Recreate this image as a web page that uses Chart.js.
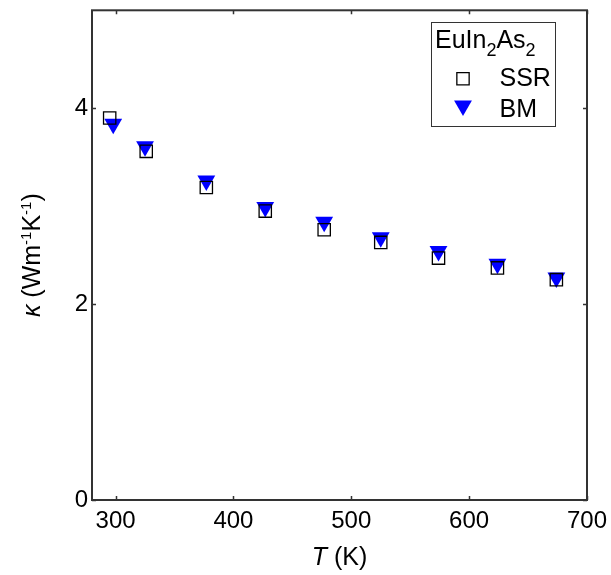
<!DOCTYPE html>
<html>
<head>
<meta charset="utf-8">
<script src="https://cdn.jsdelivr.net/npm/chart.js@4.4.1/dist/chart.umd.min.js"></script>
<style>
html, body { margin: 0; padding: 0; background: #fff; }
#wrap { width: 611px; height: 575px; }
</style>
</head>
<body>
<div id="wrap"><canvas id="kappa"></canvas></div>
<script>
var xTicks = [300, 400, 500, 600, 700];
var yTicks = [0, 2, 4];
var ssrT = [295, 326, 377, 427, 477, 525, 574, 624, 674];
var ssrKappa = [3.90, 3.56, 3.19, 2.95, 2.76, 2.63, 2.47, 2.37, 2.25];
var bmT = [298, 325, 377, 427, 477, 525, 574, 624, 674];
var bmKappa = [3.84, 3.61, 3.26, 2.99, 2.84, 2.68, 2.54, 2.41, 2.27];
var seriesLabels = ['SSR', 'BM'];

var FONT = "'Liberation Sans', Arial, sans-serif";
var AXIS = '#333';

function pairs(xs, ys) {
    return xs.map(function (x, i) { return { x: x, y: ys[i] }; });
}

// draws a row of text pieces, some italic / raised / lowered
function drawRuns(ctx, runs, x, y, size) {
    var cx = x;
    runs.forEach(function (r) {
        var s = r.sup || r.sub ? size * (r.scale || 0.6) : size;
        ctx.font = (r.italic ? 'italic ' : '') + s + 'px ' + FONT;
        var dy = r.sup ? -size * 0.38 : (r.sub ? size * 0.3 : 0);
        ctx.fillText(r.t, cx, y + dy);
        cx += ctx.measureText(r.t).width;
    });
    return cx - x;
}

function runsWidth(ctx, runs, size) {
    var w = 0;
    runs.forEach(function (r) {
        var s = r.sup || r.sub ? size * (r.scale || 0.6) : size;
        ctx.font = (r.italic ? 'italic ' : '') + s + 'px ' + FONT;
        w += ctx.measureText(r.t).width;
    });
    return w;
}

var yTitle = [{ t: '\u03ba', italic: true }, { t: ' (Wm' }, { t: '-1', sup: true }, { t: 'K' }, { t: '-1', sup: true }, { t: ')' }];
var xTitle = [{ t: 'T', italic: true }, { t: ' (K)' }];
var legendTitle = [{ t: 'EuIn' }, { t: '2', sub: true, scale: 0.72 }, { t: 'As' }, { t: '2', sub: true, scale: 0.72 }];

var framePlugin = {
    id: 'frame',
    afterDraw: function (chart) {
        var ctx = chart.ctx;
        var a = chart.chartArea;
        var xs = chart.scales.x, ys = chart.scales.y;
        ctx.save();
        ctx.strokeStyle = AXIS;
        ctx.lineWidth = 2;
        ctx.strokeRect(a.left, a.top, a.right - a.left, a.bottom - a.top);

        // inward ticks on all four sides
        ctx.lineWidth = 1.5;
        ctx.beginPath();
        xTicks.forEach(function (v) {
            var px = Math.round(xs.getPixelForValue(v)) + 0.5;
            ctx.moveTo(px, a.bottom); ctx.lineTo(px, a.bottom - 4);
            ctx.moveTo(px, a.top); ctx.lineTo(px, a.top + 4);
        });
        yTicks.forEach(function (v) {
            var py = Math.round(ys.getPixelForValue(v)) + 0.5;
            ctx.moveTo(a.left, py); ctx.lineTo(a.left + 4, py);
            ctx.moveTo(a.right, py); ctx.lineTo(a.right - 4, py);
        });
        ctx.stroke();

        // axis titles
        ctx.fillStyle = '#000';
        ctx.textBaseline = 'alphabetic';
        ctx.textAlign = 'left';
        var size = 25;
        var w = runsWidth(ctx, xTitle, size);
        drawRuns(ctx, xTitle, (a.left + a.right) / 2 - w / 2, 565, size);

        w = runsWidth(ctx, yTitle, size);
        ctx.save();
        ctx.translate(40, (a.top + a.bottom) / 2);
        ctx.rotate(-Math.PI / 2);
        drawRuns(ctx, yTitle, -w / 2, 0, size);
        ctx.restore();

        // legend box
        ctx.strokeStyle = AXIS;
        ctx.lineWidth = 1;
        ctx.strokeRect(431.5, 22.5, 124, 104);
        drawRuns(ctx, legendTitle, 435, 48, 25);

        var sets = chart.data.datasets;
        var rows = [78.7, 105.7];
        var baselines = [86, 117];
        sets.forEach(function (ds, i) {
            ctx.fillStyle = ds.backgroundColor;
            ctx.strokeStyle = ds.borderColor;
            ctx.lineWidth = ds.borderWidth;
            Chart.helpers.drawPoint(ctx, {
                pointStyle: ds.pointStyle,
                radius: ds.pointRadius,
                rotation: ds.pointRotation || 0,
                borderWidth: ds.borderWidth
            }, 463, rows[i]);
            ctx.fillStyle = '#000';
            ctx.font = '25px ' + FONT;
            ctx.fillText(seriesLabels[i], 499.5, baselines[i]);
        });
        ctx.restore();
    }
};

var ctx = document.getElementById('kappa').getContext('2d');
var chart = new Chart(ctx, {
    type: 'scatter',
    data: {
        datasets: [
            {
                label: seriesLabels[0],
                data: pairs(ssrT, ssrKappa),
                pointStyle: 'rect',
                pointRadius: 8.7,
                pointHoverRadius: 8.7,
                backgroundColor: 'rgba(255,255,255,0)',
                borderColor: '#000',
                borderWidth: 1.3
            },
            {
                label: seriesLabels[1],
                data: pairs(bmT, bmKappa),
                pointStyle: 'triangle',
                pointRotation: 180,
                pointRadius: 10.3,
                pointHoverRadius: 10.3,
                backgroundColor: '#0000ff',
                borderColor: '#0000ff',
                borderWidth: 0
            }
        ]
    },
    options: {
        responsive: true,
        maintainAspectRatio: false,
        animation: false,
        layout: { padding: { top: 6, right: 24, left: 0, bottom: 0 } },
        plugins: {
            legend: { display: false },
            tooltip: { enabled: false }
        },
        scales: {
            x: {
                type: 'linear',
                min: 280,
                max: 700,
                grid: { display: false, drawTicks: false },
                border: { display: false },
                afterBuildTicks: function (scale) {
                    scale.ticks = xTicks.map(function (v) { return { value: v }; });
                },
                afterFit: function (scale) {
                    scale.height = 75;
                    scale.paddingLeft = 0;
                    scale.paddingRight = 0;
                },
                ticks: {
                    color: '#000',
                    padding: 7,
                    maxRotation: 0,
                    font: { family: FONT, size: 24 }
                }
            },
            y: {
                type: 'linear',
                min: 0,
                max: 5,
                grid: { display: false, drawTicks: false },
                border: { display: false },
                afterBuildTicks: function (scale) {
                    scale.ticks = yTicks.map(function (v) { return { value: v }; });
                },
                afterFit: function (scale) {
                    scale.width = 92;
                    scale.paddingTop = 0;
                    scale.paddingBottom = 0;
                },
                ticks: {
                    color: '#000',
                    padding: 4,
                    font: { family: FONT, size: 24 }
                }
            }
        }
    },
    plugins: [framePlugin]
});
</script>
</body>
</html>
